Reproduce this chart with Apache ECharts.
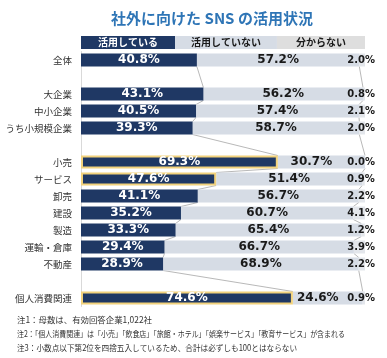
<!DOCTYPE html>
<html>
<head>
<meta charset="utf-8">
<script src="https://cdn.jsdelivr.net/npm/echarts@6/dist/echarts.min.js"></script>
<style>
html,body{margin:0;padding:0;background:#fff;}
#c{width:387px;height:358px;}
</style>
</head>
<body>
<div id="c"></div>
<script>
var categories = ['全体','','大企業','中小企業','うち小規模企業','','小売','サービス','卸売','建設','製造','運輸・倉庫','不動産','','個人消費関連'];
var using     = [40.8,null,43.1,40.5,39.3,null,69.3,47.6,41.1,35.2,33.3,29.4,28.9,null,74.6];
var notUsing  = [57.2,null,56.2,57.4,58.7,null,30.7,51.4,56.7,60.7,65.4,66.7,68.9,null,24.6];
var unknown   = [2.0,null,0.8,2.1,2.0,null,0.0,0.9,2.2,4.1,1.2,3.9,2.2,null,0.9];
var highlighted = ['小売','サービス','個人消費関連'];
var seriesNames = ['活用している','活用していない','分からない'];
var notes = [
  '注1：母数は、有効回答企業1,022社',
  '注2：「個人消費関連」は「小売」「飲食店」「旅館・ホテル」「娯楽サービス」「教育サービス」が含まれる',
  '注3：小数点以下第2位を四捨五入しているため、合計は必ずしも100とはならない'
];

var DARK = '#1f3864', LIGHT = '#d6dce5', PALE = '#e3e6eb', GOLD = '#f2d27c';
var BAR_W = 13;
var numFont = 'DejaVu Sans';
var jpFont = 'Noto Sans CJK JP';
var NOTE_SIZE = 8.5;
var noteWidths = [135, 328, 280];

function fmt(v){ return v.toFixed(1) + '%'; }

var usingData = using.map(function(v,i){
  if (v === null) return '-';
  var hl = highlighted.indexOf(categories[i]) >= 0;
  return hl ? {value:v, itemStyle:{borderColor:GOLD, borderWidth:2}} : v;
});
var notUsingData = notUsing.map(function(v){
  if (v === null) return '-';
  // short segments: label nudged left to clear the "分からない" label
  return v < 35 ? {value: v, label: {offset: [-10, 0]}} : v;
});

// series lines between consecutive non-blank rows
var pairs = [];
var prev = -1;
for (var i = 0; i < categories.length; i++) {
  if (using[i] === null) continue;
  if (prev >= 0) {
    pairs.push([using[prev], prev, using[i], i]);
    pairs.push([using[prev] + notUsing[prev], prev, using[i] + notUsing[i], i]);
  }
  prev = i;
}

var mctx = document.createElement('canvas').getContext('2d');
mctx.font = NOTE_SIZE + 'px "' + jpFont + '"';

var chart = echarts.init(document.getElementById('c'));
chart.setOption({
  animation: false,
  title: {
    text: '社外に向けた SNS の活用状況',
    left: 207, top: 6, textAlign: 'center',
    textStyle: {fontFamily: jpFont, fontSize: 15, fontWeight: 'bold', color: '#2e75b6'}
  },
  grid: [
    {left: 81, right: 22, top: 51.5, height: 255, outerBoundsMode: 'none', containLabel: false},
    {left: 81, right: 22, top: 36, height: 13, outerBoundsMode: 'none', containLabel: false}
  ],
  xAxis: [
    {gridIndex: 0, type: 'value', min: 0, max: 100, show: false},
    {gridIndex: 1, type: 'value', min: 0, max: 100, show: false}
  ],
  yAxis: [
    {gridIndex: 0, type: 'category', data: categories, inverse: true,
     axisLine: {show: true, lineStyle: {color: '#d9d9d9'}},
     axisTick: {show: false},
     axisLabel: {fontFamily: jpFont, fontSize: 9.5, color: '#333', margin: 9}},
    {gridIndex: 1, type: 'category', data: ['h'], show: false}
  ],
  series: [
    {type: 'custom', xAxisIndex: 0, yAxisIndex: 0, z: 1,
     encode: {x: [0, 2], y: [1, 3]},
     data: pairs,
     silent: true,
     renderItem: function(params, api){
       var p1 = api.coord([api.value(0), api.value(1)]);
       var p2 = api.coord([api.value(2), api.value(3)]);
       return {type: 'line',
         shape: {x1: p1[0], y1: p1[1] + BAR_W/2, x2: p2[0], y2: p2[1] - BAR_W/2},
         style: {stroke: '#a6a6a6', lineWidth: 0.8}};
     }},
    {name: seriesNames[0], type: 'bar', stack: 's', barWidth: BAR_W, z: 3,
     itemStyle: {color: DARK}, data: usingData,
     label: {show: true, position: 'inside', formatter: function(p){return fmt(p.value);},
       fontFamily: numFont, fontWeight: 'bold', fontSize: 12, color: '#fff'}},
    {name: seriesNames[1], type: 'bar', stack: 's', barWidth: BAR_W, z: 2,
     itemStyle: {color: LIGHT}, data: notUsingData,
     label: {show: true, position: 'inside', formatter: function(p){return fmt(p.value);},
       fontFamily: numFont, fontWeight: 'bold', fontSize: 12, color: '#1a1a1a'}},
    {name: seriesNames[2], type: 'bar', stack: 's', barWidth: BAR_W, z: 2,
     itemStyle: {color: PALE}, data: unknown.map(function(v){return v===null?'-':v;}),
     label: {show: true, position: 'insideRight', offset: [15, 0], formatter: function(p){return fmt(p.value);},
       fontFamily: numFont, fontWeight: 'bold', fontSize: 10, color: '#1a1a1a'}},
    // header legend row
    {type: 'bar', xAxisIndex: 1, yAxisIndex: 1, stack: 'h', barWidth: 13, data: [33.1],
     itemStyle: {color: DARK},
     label: {show: true, position: 'inside', formatter: seriesNames[0],
       fontFamily: jpFont, fontWeight: 'bold', fontSize: 10, color: '#fff'}},
    {type: 'bar', xAxisIndex: 1, yAxisIndex: 1, stack: 'h', barWidth: 13, data: [35.9],
     itemStyle: {color: LIGHT},
     label: {show: true, position: 'inside', formatter: seriesNames[1],
       fontFamily: jpFont, fontWeight: 'bold', fontSize: 10, color: '#1a1a1a'}},
    {type: 'bar', xAxisIndex: 1, yAxisIndex: 1, stack: 'h', barWidth: 13, data: [31.0],
     itemStyle: {color: '#dedede'},
     label: {show: true, position: 'inside', formatter: seriesNames[2],
       fontFamily: jpFont, fontWeight: 'bold', fontSize: 10, color: '#1a1a1a'}}
  ],
  graphic: notes.map(function(t, k){
    var w = mctx.measureText(t).width;
    var s = Math.min(1, noteWidths[k] / w);
    return {type: 'text', x: 17, y: 316 + k*14, scaleX: s,
      style: {text: t, fontFamily: jpFont, fontSize: NOTE_SIZE, fill: '#333'}};
  })
});
</script>
</body>
</html>
